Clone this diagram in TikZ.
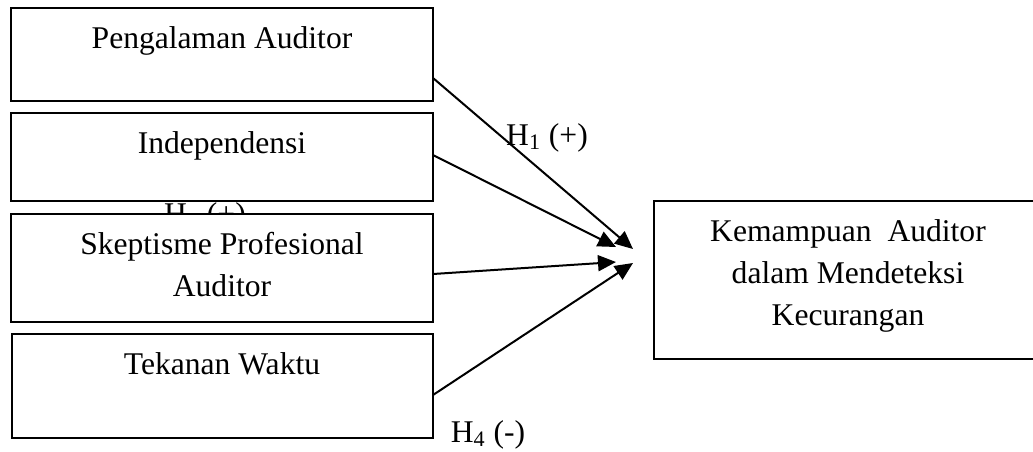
\documentclass[tikz,border=0pt]{standalone}
\usepackage{fontspec}
\setmainfont{Liberation Serif}
\usetikzlibrary{calc,arrows.meta}
\tikzset{
  box/.style={draw, line width=0.8pt, fill=white, anchor=north west, inner sep=0pt, outer sep=0pt},
  lbl/.style={anchor=base, inner sep=0pt, font=\fontsize{15.8}{21}\selectfont},
  arr/.style={line width=1pt, -{Triangle[length=9pt,width=8pt]}}
}
\begin{document}
\begin{tikzpicture}[x=0.5pt,y=-0.5pt]
\useasboundingbox (0,0) rectangle (1033,451);
\begin{scope}
\clip (0,0) rectangle (1033,451);
% hidden label first
\node[lbl] (h2) at (205,224) {H\textsubscript{2} (+)};
\node[box, minimum width=211pt, minimum height=46.5pt] (b1) at (11,8) {};
\node[box, minimum width=211pt, minimum height=44pt] (b2) at (11,113) {};
\node[box, minimum width=211pt, minimum height=54pt] (b3) at (11,214) {};
\node[box, minimum width=210.5pt, minimum height=52pt] (b4) at (12,334) {};
\node[box, minimum width=194pt, minimum height=79pt] (k) at (654,201) {};
\end{scope}
\node[lbl] (l1) at (222,48) {Pengalaman Auditor};
\node[lbl] (l2) at (222,153) {Independensi};
\node[lbl, align=center] (l3) at (222,296) {Skeptisme Profesional\\Auditor};
\node[lbl] (l4) at (222,374) {Tekanan Waktu};
\node[lbl, align=center] (lk) at (848,325) {Kemampuan~ Auditor\\dalam Mendeteksi\\Kecurangan};
\node[lbl] (h1) at (547,145) {H\textsubscript{1} (+)};
\node[lbl] (h4) at (488,442) {H\textsubscript{4} (-)};
\coordinate (t1) at (633,249);
\coordinate (t2) at (616,247);
\coordinate (t3) at (616,262);
\coordinate (t4) at (633,263);
\draw[arr] ($(b1.north east)+(0,70)$) -- (t1);
\draw[arr] ($(b2.north east)+(0,42)$) -- (t2);
\draw[arr] ($(b3.north east)+(0,60)$) -- (t3);
\draw[arr] ($(b4.north east)+(0,61)$) -- (t4);
\end{tikzpicture}
\end{document}
